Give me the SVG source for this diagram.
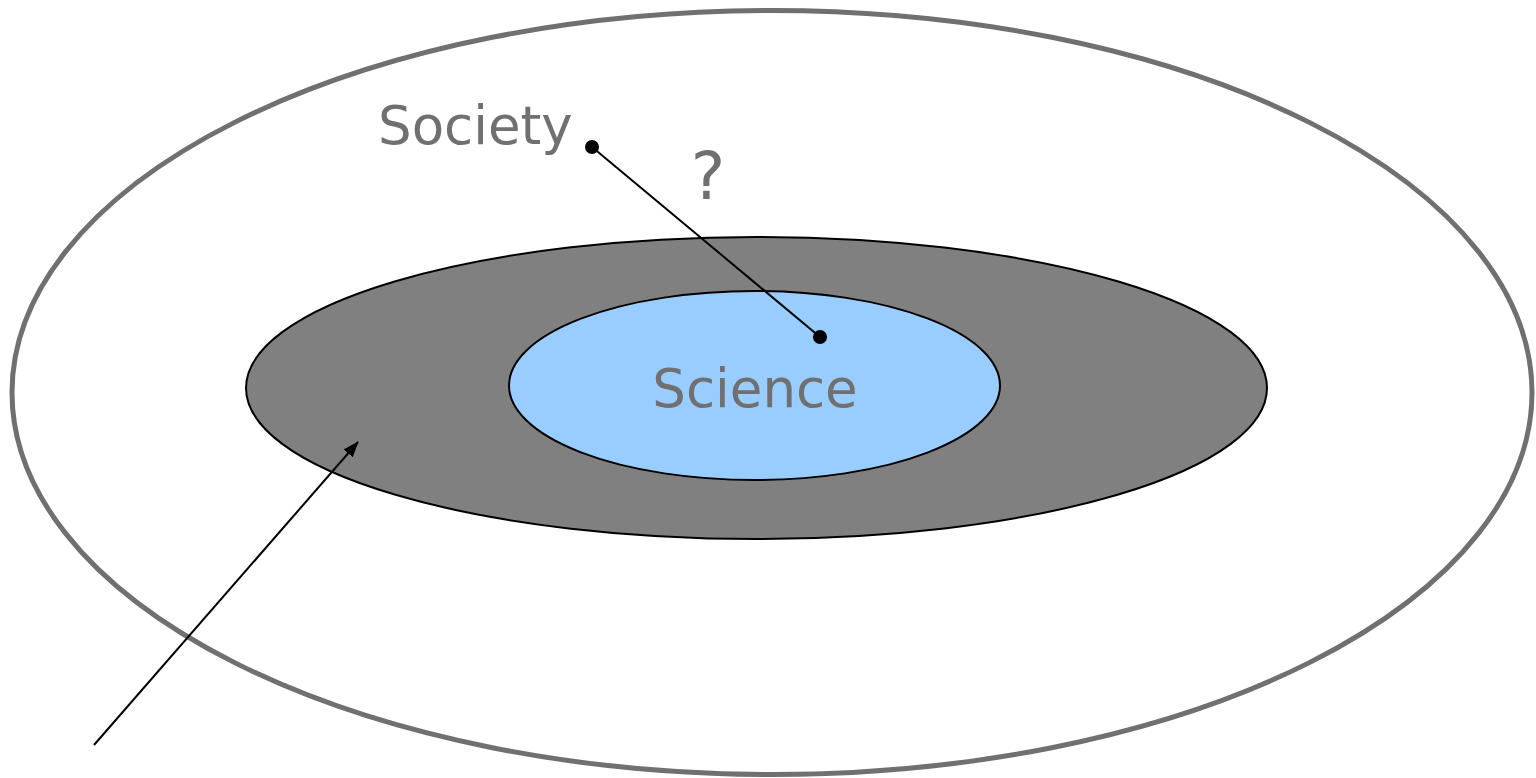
<svg xmlns="http://www.w3.org/2000/svg" width="1536" height="778" viewBox="0 0 1536 778">
<defs>
<style>
.lbl{font-family:"DejaVu Sans",Verdana,sans-serif;font-size:53px;fill:#707070}
.conn{stroke:#000;stroke-width:2;fill:none}
</style>
<marker id="arr" markerWidth="16" markerHeight="12" refX="15" refY="6" orient="auto" markerUnits="userSpaceOnUse" viewBox="0 0 16 12">
<path d="M0,0 L16,6 L0,12 z" fill="#000"/>
</marker>
<marker id="dot" markerWidth="16" markerHeight="16" refX="8" refY="8" markerUnits="userSpaceOnUse" viewBox="0 0 16 16">
<circle cx="8" cy="8" r="7" fill="#000"/>
</marker>
</defs>
<rect width="1536" height="778" fill="#fff"/>
<g id="society">
<ellipse cx="772" cy="392.5" rx="760" ry="382" fill="none" stroke="#707070" stroke-width="5"/>
<text class="lbl" x="378" y="144">Society</text>
</g>
<g id="middle">
<ellipse cx="756.5" cy="388" rx="510.5" ry="151" fill="#808080" stroke="#000" stroke-width="2"/>
</g>
<g id="science">
<ellipse cx="754.5" cy="385.5" rx="245.5" ry="94.5" fill="#99ccff" stroke="#000" stroke-width="2"/>
<text class="lbl" x="755" y="407" text-anchor="middle">Science</text>
</g>
<g id="connectors">
<line class="conn" x1="592" y1="147" x2="820" y2="337" marker-start="url(#dot)" marker-end="url(#dot)"/>
<text class="lbl" x="708" y="199" text-anchor="middle" style="font-size:65px">?</text>
<line class="conn" x1="94" y1="745" x2="358" y2="442" marker-end="url(#arr)"/>
</g>
</svg>
